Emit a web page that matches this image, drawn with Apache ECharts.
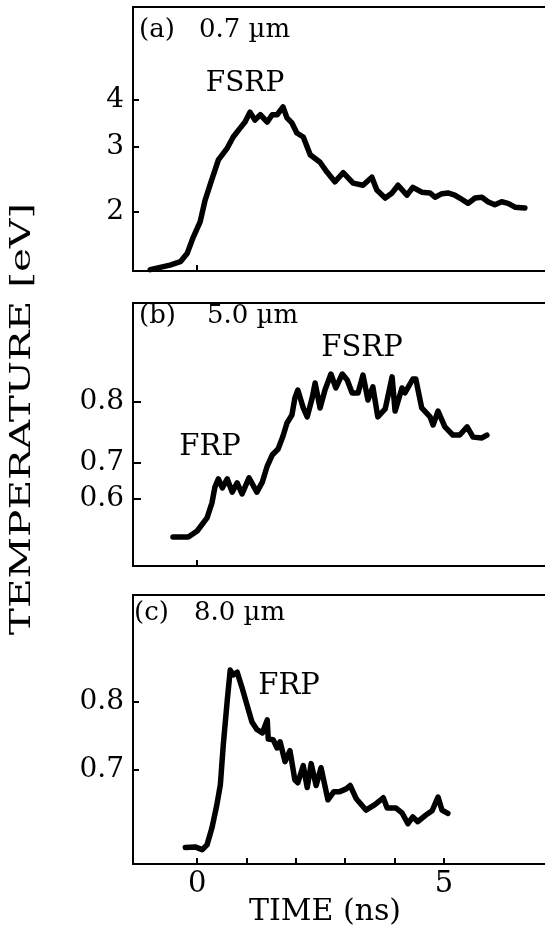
<!DOCTYPE html>
<html>
<head>
<meta charset="utf-8">
<script src="https://cdn.jsdelivr.net/npm/echarts@6/dist/echarts.min.js"></script>
<style>
  html, body { margin: 0; padding: 0; background: #fff; }
  #chart { width: 545px; height: 932px; }
</style>
</head>
<body>
<div id="chart"></div>
<script>
// ---------- data ----------
// Panel (a) 0.7 µm : time (ns) vs temperature (eV), log scale
const timeA = [-0.95,-0.75,-0.55,-0.34,-0.20,-0.08,0.06,0.16,0.26,0.43,0.61,0.73,0.87,0.97,1.07,1.17,1.28,1.42,1.52,1.62,1.74,1.82,1.92,2.02,2.15,2.29,2.49,2.63,2.79,2.96,3.16,3.36,3.54,3.64,3.81,3.95,4.07,4.25,4.37,4.55,4.72,4.82,4.96,5.08,5.22,5.32,5.49,5.63,5.77,5.89,6.03,6.17,6.30,6.44,6.64];
const tempA = [1.40,1.42,1.44,1.47,1.55,1.71,1.88,2.15,2.36,2.76,2.97,3.18,3.36,3.49,3.71,3.53,3.65,3.49,3.65,3.65,3.83,3.58,3.47,3.26,3.18,2.85,2.72,2.56,2.41,2.55,2.39,2.36,2.48,2.29,2.18,2.25,2.36,2.22,2.33,2.26,2.25,2.19,2.24,2.25,2.22,2.18,2.11,2.18,2.19,2.13,2.09,2.13,2.11,2.06,2.05];
const tickValuesA = [2, 3, 4];

// Panel (b) 5.0 µm : time (ns) vs detector signal (a.u.), temperature-calibrated ticks
const timeB = [-0.49,-0.18,0.00,0.20,0.30,0.36,0.43,0.51,0.61,0.71,0.81,0.91,1.05,1.21,1.32,1.42,1.52,1.64,1.74,1.82,1.92,1.98,2.04,2.15,2.23,2.33,2.39,2.49,2.59,2.71,2.81,2.94,3.04,3.14,3.26,3.36,3.46,3.56,3.66,3.81,3.95,4.01,4.15,4.21,4.37,4.43,4.55,4.72,4.78,4.88,5.02,5.18,5.32,5.47,5.59,5.77,5.87];
const signalB = [11.0,11.0,13.3,18.3,24.0,30.0,33.1,29.7,33.1,28.1,31.6,27.4,33.5,28.1,31.9,38.0,42.2,44.5,49.4,54.4,57.4,63.9,66.9,60.1,56.7,63.9,69.6,60.1,66.9,73.0,67.7,73.0,70.7,65.8,65.8,72.6,63.1,68.1,56.7,59.7,71.9,58.9,67.7,65.8,71.1,71.1,60.1,56.7,53.6,58.9,52.9,49.8,49.8,52.9,49.0,48.7,49.8];
const tickPositionsB = [25.4, 39.4, 62.5];
const tickLabelsB = ['0.6', '0.7', '0.8'];

// Panel (c) 8.0 µm : time (ns) vs temperature (eV)
const timeC = [-0.24,-0.04,0.10,0.20,0.30,0.40,0.47,0.53,0.61,0.67,0.73,0.81,0.91,1.01,1.11,1.21,1.32,1.42,1.44,1.54,1.62,1.68,1.78,1.88,1.98,2.04,2.15,2.23,2.31,2.41,2.51,2.65,2.77,2.89,3.02,3.10,3.22,3.42,3.60,3.77,3.85,4.03,4.15,4.27,4.37,4.47,4.62,4.76,4.88,4.96,5.08];
const tempC = [0.586,0.587,0.583,0.590,0.615,0.649,0.678,0.737,0.802,0.846,0.839,0.843,0.820,0.795,0.770,0.759,0.754,0.773,0.745,0.744,0.732,0.741,0.712,0.728,0.685,0.681,0.706,0.674,0.709,0.677,0.703,0.656,0.668,0.668,0.672,0.677,0.658,0.641,0.649,0.659,0.644,0.644,0.637,0.621,0.631,0.624,0.633,0.640,0.660,0.641,0.636];
const tickValuesC = [0.7, 0.8];

// x axis ticks
const xTickValues = [0, 1, 2, 3, 4, 5];
const xLabelValues = [0, 5];

// ---------- chart ----------
const SERIF = '"DejaVu Serif", serif';
const zip = (xs, ys) => xs.map((x, i) => [x, ys[i]]);
const axisLine = () => ({ show: true, onZero: false, lineStyle: { color: '#000', width: 2 } });
const tickLine = () => ({ color: '#000', width: 2 });

const grids = [
  { left: 133, top: 7,   width: 459, height: 264, show: false, outerBoundsMode: 'none' },
  { left: 133, top: 303, width: 459, height: 263, show: false, outerBoundsMode: 'none' },
  { left: 133, top: 595, width: 459, height: 269, show: false, outerBoundsMode: 'none' }
];

const xAxes = [];
[0, 1, 2].forEach(i => {
  xAxes.push({
    gridIndex: i, type: 'value', min: -1.3, max: 8,
    axisLine: axisLine(),
    axisTick: { show: true, inside: true, length: 6, lineStyle: tickLine(),
                customValues: i === 2 ? xTickValues.slice() : [0] },
    axisLabel: { show: i === 2, customValues: xLabelValues.slice(), margin: 6,
                 color: '#000', fontFamily: SERIF, fontSize: 29 },
    splitLine: { show: false }
  });
  // top frame line of each panel
  xAxes.push({
    gridIndex: i, type: 'value', min: -1.3, max: 8, position: 'top',
    axisLine: axisLine(), axisTick: { show: false }, axisLabel: { show: false }, splitLine: { show: false }
  });
});

const yLabel = () => ({ color: '#000', fontFamily: SERIF, fontSize: 28, margin: 9 });

const yAxes = [
  {
    gridIndex: 0, type: 'log', min: 1.388, max: 7.11,
    axisLine: axisLine(), splitLine: { show: false },
    axisTick: { show: true, inside: true, length: 6, lineStyle: tickLine(), customValues: tickValuesA },
    axisLabel: Object.assign({ customValues: tickValuesA }, yLabel())
  },
  {
    gridIndex: 1, type: 'value', min: 0, max: 100,
    axisLine: axisLine(), splitLine: { show: false },
    axisTick: { show: true, inside: true, length: 8, lineStyle: tickLine(), customValues: tickPositionsB },
    axisLabel: Object.assign({ customValues: tickPositionsB,
      formatter: v => { const k = tickPositionsB.findIndex(p => Math.abs(p - v) < 1e-6); return k >= 0 ? tickLabelsB[k] : ''; } }, yLabel())
  },
  {
    gridIndex: 2, type: 'value', min: 0.562, max: 0.956,
    axisLine: axisLine(), splitLine: { show: false },
    axisTick: { show: true, inside: true, length: 6, lineStyle: tickLine(), customValues: tickValuesC },
    axisLabel: Object.assign({ customValues: tickValuesC, formatter: v => v.toFixed(1) }, yLabel())
  }
];

const series = [
  { type: 'line', xAxisIndex: 0, yAxisIndex: 0, data: zip(timeA, tempA) },
  { type: 'line', xAxisIndex: 2, yAxisIndex: 1, data: zip(timeB, signalB) },
  { type: 'line', xAxisIndex: 4, yAxisIndex: 2, data: zip(timeC, tempC) }
].map(s => Object.assign(s, { showSymbol: false, symbol: 'none',
                              lineStyle: { color: '#000', width: 5.5, join: 'round', cap: 'round' } }));

function txt(text, x, y, size, align) {
  return { type: 'text', x, y, silent: true,
           style: { text, fill: '#000', font: size + 'px ' + SERIF, align: align || 'left', verticalAlign: 'middle' } };
}
// the panels continue past the right edge of the page: keep that edge open
function edgeMask(g) {
  return { type: 'rect', silent: true, z: 100,
           shape: { x: 538, y: g.top + 2, width: 12, height: g.height - 4 },
           style: { fill: '#fff' } };
}

const graphics = [
  ...grids.map(edgeMask),
  txt('(a)', 139, 30, 26), txt('0.7 µm', 199, 30, 26),
  txt('(b)', 139, 316, 26), txt('5.0 µm', 207, 316, 26),
  txt('(c)', 134, 613, 26), txt('8.0 µm', 194, 613, 26),
  txt('FSRP', 245, 84, 28, 'center'),
  txt('FSRP', 362, 348, 29, 'center'),
  txt('FRP', 210, 447, 29, 'center'),
  txt('FRP', 289, 686, 29, 'center'),
  txt('TIME (ns)', 325, 912, 30, 'center'),
  { type: 'text', x: 23, y: 419, rotation: Math.PI / 2, scaleX: 1.45, silent: true,
    style: { text: 'TEMPERATURE [eV]', fill: '#000', font: '28px ' + SERIF, align: 'center', verticalAlign: 'middle' } }
];

const chart = echarts.init(document.getElementById('chart'), null, { renderer: 'canvas' });
chart.setOption({
  animation: false,
  backgroundColor: '#fff',
  grid: grids,
  xAxis: xAxes,
  yAxis: yAxes,
  series,
  graphic: graphics
});
</script>
</body>
</html>
